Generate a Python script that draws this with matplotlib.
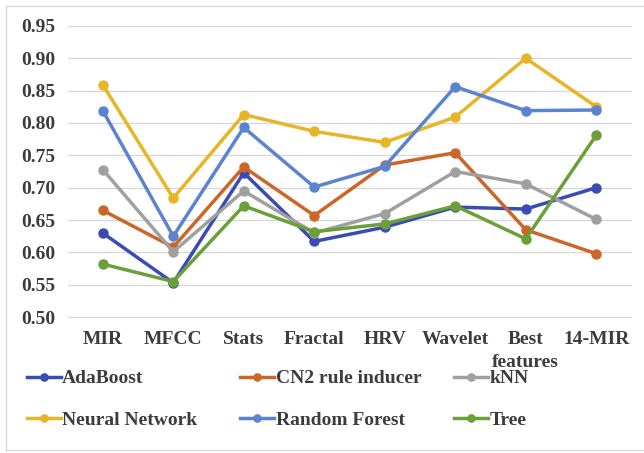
import matplotlib.pyplot as plt
from matplotlib.patches import Rectangle

categories = ['MIR', 'MFCC', 'Stats', 'Fractal', 'HRV', 'Wavelet', 'Best\nfeatures', '14-MIR']

adaboost = [0.630, 0.553, 0.723, 0.617, 0.639, 0.670, 0.667, 0.700]
cn2 = [0.665, 0.608, 0.732, 0.657, 0.735, 0.754, 0.635, 0.598]
knn = [0.728, 0.601, 0.695, 0.630, 0.660, 0.725, 0.706, 0.651]
neural_net = [0.859, 0.684, 0.813, 0.787, 0.770, 0.809, 0.900, 0.825]
random_forest = [0.819, 0.625, 0.793, 0.701, 0.733, 0.856, 0.819, 0.820]
tree = [0.582, 0.555, 0.672, 0.632, 0.644, 0.672, 0.621, 0.781]

y_ticks = [0.50, 0.55, 0.60, 0.65, 0.70, 0.75, 0.80, 0.85, 0.90, 0.95]

series = [
    ('AdaBoost', adaboost, '#3b4bb5'),
    ('CN2 rule inducer', cn2, '#cc6628'),
    ('kNN', knn, '#a0a0a0'),
    ('Neural Network', neural_net, '#e8b526'),
    ('Random Forest', random_forest, '#5b84cf'),
    ('Tree', tree, '#6a9f3a'),
]

text_col = '#3c3c3c'
fs = 14
plt.rcParams['font.family'] = ['Liberation Serif', 'DejaVu Serif']
plt.rcParams['font.weight'] = 'bold'

fig = plt.figure(figsize=(6.44, 4.53), dpi=100)
ax = fig.add_axes([67.5 / 644, 1 - 317.5 / 453, 564 / 644, 292 / 453])

x = list(range(len(categories)))
handles = []
for name, vals, col in series:
    h, = ax.plot(x, vals, color=col, lw=2.5, marker='o', markersize=6.5, label=name)
    handles.append(h)

ax.set_xlim(-0.5, len(categories) - 0.5)
ax.set_ylim(0.4995, 0.9505)
ax.set_yticks(y_ticks)
ax.set_yticklabels([f'{v:.2f}' for v in y_ticks])
ax.set_xticks(x)
ax.set_xticklabels(categories, linespacing=1.45)
ax.tick_params(length=0, labelsize=fs, labelcolor=text_col)
ax.tick_params(axis='y', pad=9)
ax.tick_params(axis='x', pad=10)
ax.grid(axis='y', color='#d9d9d9', lw=1)
ax.set_axisbelow(True)
for s in ax.spines.values():
    s.set_visible(False)

# chart border
fig.patches.append(Rectangle((6 / 644, 1 - 450 / 453), 1, 444 / 453, transform=fig.transFigure,
                             fill=False, edgecolor='#d9d9d9', lw=1))

# legend: three columns of two rows
col_x = [26.5, 240, 454]
for i in range(3):
    hs = [handles[i], handles[i + 3]]
    leg = fig.legend(hs, [h.get_label() for h in hs], loc='center left',
                     bbox_to_anchor=(col_x[i] / 644, 1 - 399.5 / 453),
                     frameon=False, borderpad=0, borderaxespad=0,
                     handlelength=1.75, handletextpad=0.08, labelspacing=1.25,
                     prop={'size': fs, 'weight': 'bold'}, markerscale=0.8)
    for t in leg.get_texts():
        t.set_color(text_col)

fig.savefig('out.png', dpi=100)
